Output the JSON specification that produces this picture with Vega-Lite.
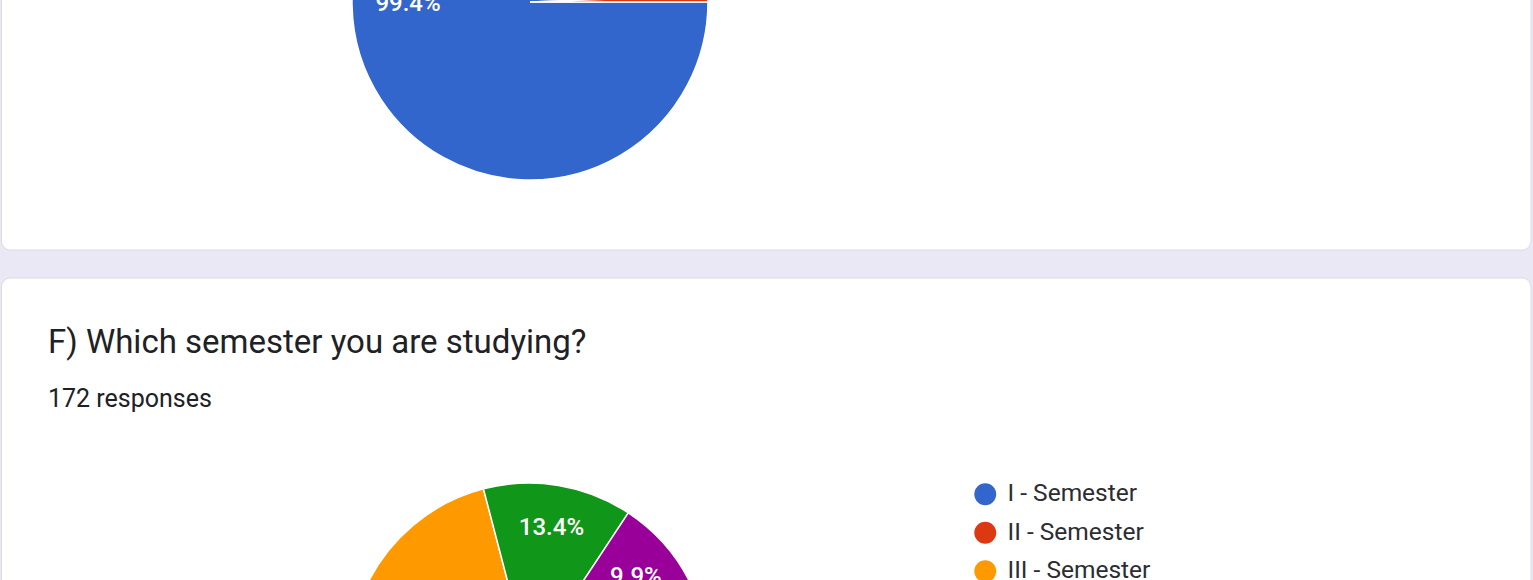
{
  "$schema": "https://vega.github.io/schema/vega-lite/v6.json",
  "width": 1533,
  "height": 580,
  "autosize": {"type": "none"},
  "padding": 0,
  "background": "#ebe8f6",
  "config": {
    "view": {"stroke": null},
    "font": "Roboto",
    "legend": {
      "orient": "none",
      "legendX": 973,
      "legendY": 482,
      "padding": 0,
      "title": null,
      "symbolType": "circle",
      "symbolSize": 480,
      "symbolStrokeWidth": 0,
      "symbolOpacity": 1,
      "labelFont": "Roboto",
      "labelFontSize": 24.5,
      "labelColor": "#2b2d31",
      "labelOffset": 10,
      "rowPadding": 13.5
    }
  },
  "layer": [
    {
      "data": {"values": [{"card": "E"}]},
      "mark": {"type": "rect", "fill": "white", "stroke": "#dadce0", "strokeWidth": 1, "cornerRadius": 9},
      "encoding": {
        "x": {"datum": 1.5, "type": "quantitative", "scale": {"domain": [0, 1533], "nice": false, "zero": false}, "axis": null},
        "x2": {"datum": 1531},
        "y": {"datum": -20, "type": "quantitative", "scale": {"domain": [0, 580], "reverse": true, "nice": false, "zero": false}, "axis": null},
        "y2": {"datum": 250}
      }
    },
    {
      "data": {"values": [{"card": "F"}]},
      "mark": {"type": "rect", "fill": "white", "stroke": "#dadce0", "strokeWidth": 1, "cornerRadius": 9},
      "encoding": {
        "x": {"datum": 1.5, "type": "quantitative"},
        "x2": {"datum": 1531},
        "y": {"datum": 278, "type": "quantitative"},
        "y2": {"datum": 620}
      }
    },
    {
      "data": {"values": [{"question": "F) Which semester you are studying?", "responses": "172 responses"}]},
      "layer": [
        {
          "mark": {"type": "text", "align": "left", "baseline": "alphabetic", "fontSize": 33, "font": "Roboto", "color": "#202124"},
          "encoding": {
            "x": {"datum": 48, "type": "quantitative"},
            "y": {"datum": 353, "type": "quantitative"},
            "text": {"field": "question"}
          }
        },
        {
          "mark": {"type": "text", "align": "left", "baseline": "alphabetic", "fontSize": 25, "font": "Roboto", "color": "#202124"},
          "encoding": {
            "x": {"datum": 48, "type": "quantitative"},
            "y": {"datum": 407, "type": "quantitative"},
            "text": {"field": "responses"}
          }
        }
      ]
    },
    {
      "data": {"values": [
        {"answer": "Yes", "count": 171, "share": 0.994, "rank": 1},
        {"answer": "No", "count": 1, "share": 0.006, "rank": 2}
      ]},
      "encoding": {
        "theta": {"field": "count", "type": "quantitative", "stack": true, "scale": {"range": [1.5707963, 7.8539816]}},
        "order": {"field": "rank", "type": "quantitative"},
        "x": {"datum": 530, "type": "quantitative"},
        "y": {"datum": 2, "type": "quantitative"}
      },
      "layer": [
        {
          "mark": {"type": "arc", "radius": 178, "stroke": "white", "strokeWidth": 1.5, "clip": true},
          "encoding": {
            "color": {"field": "answer", "type": "nominal", "scale": {"domain": ["Yes", "No"], "range": ["#3366cc", "#dc3912"]}, "legend": null}
          }
        },
        {
          "mark": {"type": "text", "radius": 122, "color": "white", "fontSize": 24, "fontWeight": 500, "font": "Roboto", "clip": true},
          "encoding": {
            "text": {"condition": {"test": "datum.share < 0.02", "value": ""}, "field": "share", "type": "quantitative", "format": ".1%"}
          }
        }
      ]
    },
    {
      "data": {"values": [
        {"semester": "I - Semester", "count": 60, "share": 0.349, "rank": 1},
        {"semester": "II - Semester", "count": 10, "share": 0.058, "rank": 2},
        {"semester": "III - Semester", "count": 52, "share": 0.302, "rank": 3},
        {"semester": "IV - Semester", "count": 23, "share": 0.134, "rank": 4},
        {"semester": "V - Semester", "count": 17, "share": 0.099, "rank": 5},
        {"semester": "VI - Semester", "count": 10, "share": 0.058, "rank": 6}
      ]},
      "encoding": {
        "theta": {"field": "count", "type": "quantitative", "stack": true, "scale": {"range": [1.5707963, 7.8539816]}},
        "order": {"field": "rank", "type": "quantitative"},
        "x": {"datum": 529, "type": "quantitative"},
        "y": {"datum": 663, "type": "quantitative"}
      },
      "layer": [
        {
          "mark": {"type": "arc", "radius": 180, "stroke": "white", "strokeWidth": 1.5, "clip": true},
          "encoding": {
            "color": {
              "field": "semester", "type": "nominal",
              "scale": {
                "domain": ["I - Semester", "II - Semester", "III - Semester", "IV - Semester", "V - Semester", "VI - Semester"],
                "range": ["#3366cc", "#dc3912", "#ff9900", "#109618", "#990099", "#0099c6"]
              }
            }
          }
        },
        {
          "mark": {"type": "text", "radius": 137, "color": "white", "fontSize": 24, "fontWeight": 500, "font": "Roboto", "clip": true},
          "encoding": {
            "text": {"condition": {"test": "datum.share < 0.02", "value": ""}, "field": "share", "type": "quantitative", "format": ".1%"}
          }
        }
      ]
    }
  ],
  "resolve": {"scale": {"theta": "independent", "color": "independent"}}
}
